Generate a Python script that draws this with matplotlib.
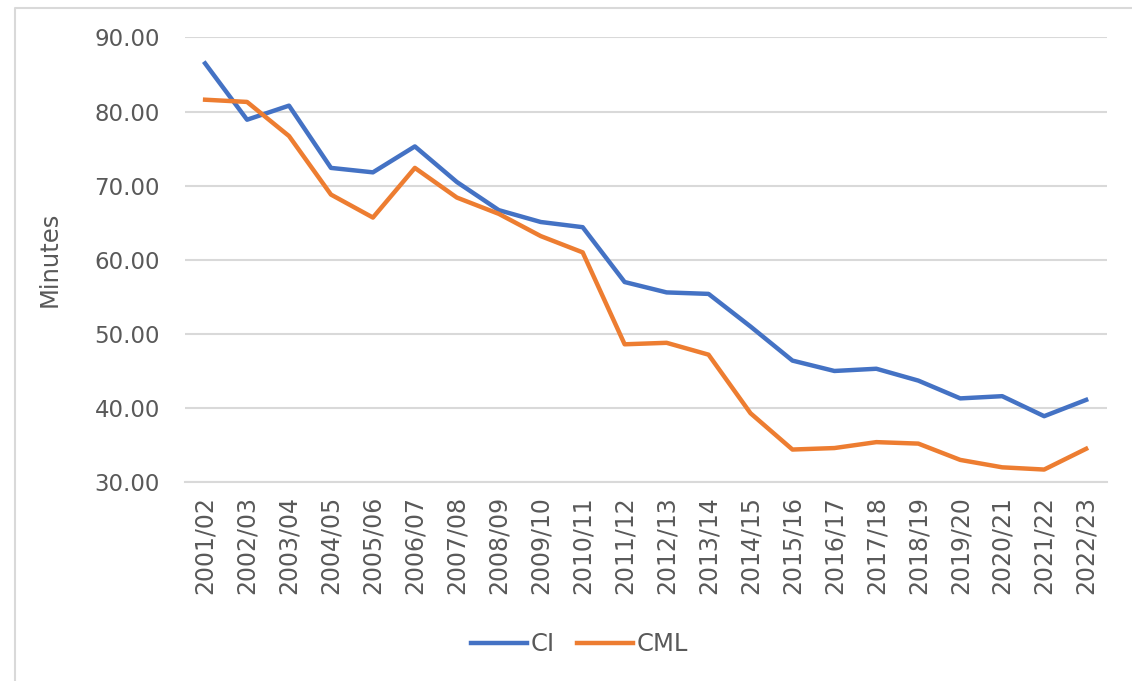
import matplotlib.pyplot as plt
from matplotlib.lines import Line2D

seasons = ["2001/02", "2002/03", "2003/04", "2004/05", "2005/06", "2006/07",
           "2007/08", "2008/09", "2009/10", "2010/11", "2011/12", "2012/13",
           "2013/14", "2014/15", "2015/16", "2016/17", "2017/18", "2018/19",
           "2019/20", "2020/21", "2021/22", "2022/23"]
ci = [86.5, 78.9, 80.8, 72.4, 71.8, 75.3, 70.5, 66.7, 65.1, 64.4, 57.0, 55.6,
      55.4, 51.0, 46.4, 45.0, 45.3, 43.7, 41.3, 41.6, 38.9, 41.1]
cml = [81.6, 81.3, 76.7, 68.8, 65.7, 72.4, 68.4, 66.2, 63.2, 61.0, 48.6, 48.8,
       47.2, 39.3, 34.4, 34.6, 35.4, 35.2, 33.0, 32.0, 31.7, 34.5]
yticks = [30, 40, 50, 60, 70, 80, 90]

txt = "#595959"
grid = "#D9D9D9"

fig = plt.figure(figsize=(11.32, 6.81), dpi=100)
ax = fig.add_axes([0.1634, 0.292, 0.8146, 0.653])

x = list(range(len(seasons)))
ax.plot(x, ci, color="#4472C4", lw=3.2, label="CI", solid_joinstyle="round")
ax.plot(x, cml, color="#ED7D31", lw=3.2, label="CML", solid_joinstyle="round")

ax.set_xlim(-0.48, len(seasons) - 0.5)
ax.set_ylim(30, 90)
ax.set_yticks(yticks)
ax.set_yticklabels([f"{v:.2f}" for v in yticks], fontsize=16.5, color=txt)
ax.set_xticks(x)
ax.set_xticklabels(seasons, rotation=90, fontsize=17, color=txt)
ax.tick_params(length=0, pad=18, axis="y")
ax.tick_params(length=0, pad=10, axis="x")

ax.grid(axis="y", color=grid, lw=1.5)
ax.set_axisbelow(True)
for s in ["top", "right", "left"]:
    ax.spines[s].set_visible(False)
ax.spines["bottom"].set_color(grid)
ax.spines["bottom"].set_linewidth(1.5)

ax.set_ylabel("Minutes", fontsize=17.5, color=txt, labelpad=24)

ax.legend(loc="center", bbox_to_anchor=(0.512, 0.054), bbox_transform=fig.transFigure,
          ncol=2, frameon=False, fontsize=17.5, handlelength=2.3, handletextpad=0.15,
          columnspacing=0.9, labelcolor=txt)

# chart area border (top and left edges visible)
fig.add_artist(Line2D([15 / 1132, 15 / 1132, 1.0], [0.0, 1 - 8 / 681, 1 - 8 / 681],
                      transform=fig.transFigure, color=grid, lw=1.5))

fig.savefig("out.png", dpi=100)
